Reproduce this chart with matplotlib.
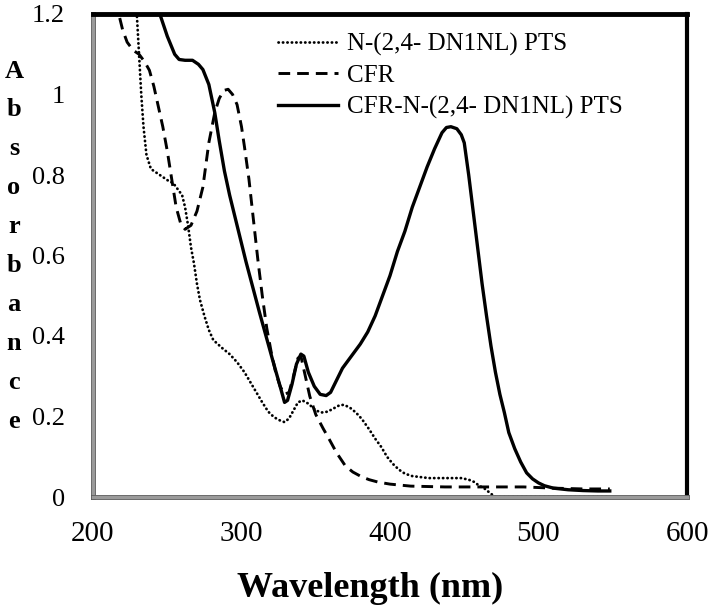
import matplotlib
matplotlib.use('Agg')
import matplotlib.pyplot as plt
import matplotlib.patheffects as pe

# Absorbance spectra
wl_dye = [228, 229.5, 231, 232.5, 234, 236, 239, 243, 247, 251, 254, 257, 260, 262, 264,
          266, 268, 270, 272, 275, 278, 281, 287, 292, 297, 302, 306, 310, 314, 318,
          322, 326, 329, 332, 335, 338, 341, 345, 350, 354, 358, 362, 366, 369, 373,
          377, 381, 386, 390, 394, 398, 402, 406, 410, 415, 426, 435, 448, 453, 457,
          460, 464, 468, 471, 500, 546]
abs_dye = [1.25, 1.20, 1.10, 1.00, 0.92, 0.85, 0.815, 0.805, 0.795, 0.785, 0.78, 0.765, 0.75, 0.72, 0.675,
           0.62, 0.58, 0.53, 0.49, 0.45, 0.415, 0.39, 0.37, 0.355, 0.335, 0.31, 0.285, 0.26, 0.235, 0.212,
           0.198, 0.19, 0.186, 0.195, 0.215, 0.235, 0.24, 0.232, 0.215, 0.21, 0.212, 0.22, 0.228, 0.229, 0.222,
           0.21, 0.194, 0.168, 0.145, 0.125, 0.10, 0.082, 0.068, 0.058, 0.052, 0.047, 0.047, 0.047, 0.043, 0.037,
           0.028, 0.02, 0.008, 0.0, 0.0, 0.0]

wl_cfr = [218, 220, 223, 227, 231, 235, 238, 241, 244, 247, 250, 253, 256, 259, 262,
          266, 270, 274, 278, 282, 285, 288, 291, 294, 297, 300, 302, 305, 308, 311,
          314, 317, 320, 323, 326, 329, 332, 335, 338, 340, 343, 346, 350, 355, 359,
          364, 370, 375, 381, 386, 392, 400, 414, 437, 460, 490, 510, 530, 548]
abs_cfr = [1.19, 1.16, 1.13, 1.11, 1.10, 1.08, 1.06, 1.02, 0.97, 0.92, 0.86, 0.79, 0.72, 0.68, 0.665,
           0.675, 0.71, 0.77, 0.88, 0.955, 0.99, 1.01, 1.013, 1.0, 0.975, 0.92, 0.87, 0.79, 0.69, 0.59,
           0.50, 0.42, 0.36, 0.31, 0.275, 0.255, 0.26, 0.30, 0.345, 0.35, 0.30, 0.25, 0.205, 0.17, 0.144,
           0.11, 0.077, 0.062, 0.05, 0.043, 0.037, 0.032, 0.027, 0.025, 0.025, 0.025, 0.022, 0.02, 0.02]

wl_mix = [241, 245, 250, 255, 258, 262, 267, 271, 274, 278, 282, 285, 288.5, 292, 297, 303,
          312, 321, 326, 329, 331, 334, 337, 340, 342, 345, 349, 353, 357, 360, 364,
          368, 372, 376, 380, 385, 390, 395, 400, 405, 410, 415, 420, 425, 430, 435,
          438, 441, 445, 448, 450, 453, 456, 459, 462, 465, 468, 471, 474, 477, 480,
          484, 488, 492, 496, 500, 504, 510, 520, 530, 540, 548]
abs_mix = [1.26, 1.20, 1.145, 1.10, 1.087, 1.085, 1.085, 1.075, 1.062, 1.025, 0.955, 0.885, 0.81, 0.75, 0.675, 0.585,
           0.46, 0.34, 0.275, 0.235, 0.24, 0.28, 0.33, 0.355, 0.35, 0.31, 0.275, 0.255, 0.252, 0.26, 0.29,
           0.32, 0.34, 0.36, 0.38, 0.41, 0.45, 0.50, 0.55, 0.61, 0.66, 0.72, 0.77, 0.82, 0.865, 0.905,
           0.918, 0.92, 0.915, 0.90, 0.88, 0.80, 0.71, 0.62, 0.53, 0.45, 0.375, 0.31, 0.255, 0.21, 0.16,
           0.12, 0.087, 0.06, 0.045, 0.035, 0.028, 0.022, 0.018, 0.016, 0.015, 0.015]

labels = ['N-(2,4- DN1NL) PTS', 'CFR', 'CFR-N-(2,4- DN1NL) PTS']
x_ticks = [200, 300, 400, 500, 600]
y_ticks = [0, 0.2, 0.4, 0.6, 0.8, 1.0, 1.2]
y_tick_labels = ['0', '0.2', '0.4', '0.6', '0.8', '1', '1.2']

plt.rcParams['font.family'] = ['Liberation Serif', 'DejaVu Serif']

fig = plt.figure(figsize=(7.09, 6.11), dpi=100)
ax = fig.add_axes([93 / 709, 1 - 497 / 611, 594 / 709, 483 / 611])

ax.plot(wl_dye, abs_dye, color='black', lw=2.0, linestyle=(0, (0.1, 1.5)),
        dash_capstyle='round', label=labels[0])
ax.plot(wl_cfr, abs_cfr, color='black', lw=2.1, linestyle=(0, (4, 2.4)), label=labels[1])
ax.plot(wl_mix, abs_mix, color='black', lw=2.4, linestyle='-', label=labels[2])

ax.set_xlim(200, 600)
ax.set_ylim(0, 1.2)
ax.set_xticks(x_ticks)
ax.set_yticks(y_ticks)
ax.set_yticklabels(y_tick_labels)
ax.tick_params(axis='x', length=0, pad=17, labelsize=21)
ax.tick_params(axis='y', length=0, pad=20, labelsize=19)

for side in ['top', 'right']:
    ax.spines[side].set_color('black')
ax.spines['top'].set_linewidth(3.5)
ax.spines['right'].set_linewidth(3)
for side in ['left', 'bottom']:
    ax.spines[side].set_color('#9a9a9a')
    ax.spines[side].set_linewidth(2.5)
    ax.spines[side].set_path_effects([pe.Stroke(linewidth=3.5, foreground='#555555'), pe.Normal()])

ax.legend(loc='upper left', bbox_to_anchor=(278 / 709, 1 - 33 / 611), bbox_transform=fig.transFigure,
          frameon=False, fontsize=18, handlelength=2.4, handletextpad=0.35,
          labelspacing=0.34, borderpad=0, borderaxespad=0)

# vertical stacked y label
for i, ch in enumerate('Absorbance'):
    fig.text(14 / 709, 1 - (71 + i * 38.9) / 611, ch, fontsize=19, fontweight='bold',
             ha='center', va='center')

fig.text(370 / 709, 1 - 588 / 611, 'Wavelength (nm)', fontsize=26, fontweight='bold',
         ha='center', va='center')

fig.savefig('out.png', dpi=100)
